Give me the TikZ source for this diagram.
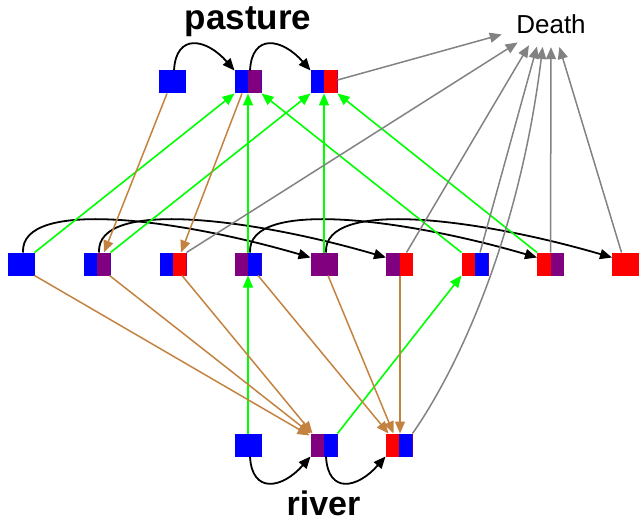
\documentclass[tikz,border=0pt]{standalone}
\usepackage{fontspec}
\setmainfont{Liberation Sans}
\usetikzlibrary{arrows.meta,calc,shapes.geometric}
\definecolor{gbrown}{RGB}{196,130,64}
\definecolor{ggreen}{RGB}{0,255,0}
\definecolor{ggray}{RGB}{130,130,130}
\definecolor{gpurple}{RGB}{128,0,128}
\definecolor{gblue}{RGB}{0,0,255}
\definecolor{gred}{RGB}{255,0,0}
\tikzset{
  box/.style={minimum width=27pt, minimum height=23pt, inner sep=0pt, outer sep=0pt},
  one/.style={box, fill=#1},
  two/.style 2 args={box, fill=#1, path picture={\fill[#2] (path picture bounding box.south) rectangle (path picture bounding box.north east);}},
  tip/.style={-{Triangle[length=12pt,width=10pt]}},
  karr/.style={tip, draw=black, line width=1.8pt},
  garr/.style={tip, draw=ggreen, line width=1.6pt},
  barr/.style={tip, draw=gbrown, line width=1.5pt},
  yarr/.style={tip, draw=ggray, line width=1.5pt},
  title/.style={font=\bfseries\fontsize{35}{40}\selectfont, inner sep=0pt, anchor=base},
}
\begin{document}
\begin{tikzpicture}[x=1pt,y=-1pt]
\useasboundingbox (0,0) rectangle (639,521);
% labels
\node[title] (pasture) at (248,30) {pasture};
\node[title, font=\bfseries\fontsize{34}{40}\selectfont] (river) at (323.5,515.5) {river};
\node[ellipse, inner sep=0pt, minimum width=110pt, minimum height=46pt, font=\fontsize{26}{30}\selectfont] (Death) at (551,24) {Death};
% pasture row
\node[one=gblue] (P1) at (172,82) {};
\node[two={gblue}{gpurple}] (P2) at (248,82) {};
\node[two={gblue}{gred}] (P3) at (324,82) {};
% middle row
\node[one=gblue] (M1) at (21,264) {};
\node[two={gblue}{gpurple}] (M2) at (97,264) {};
\node[two={gblue}{gred}] (M3) at (173,264) {};
\node[two={gpurple}{gblue}] (M4) at (248,264) {};
\node[one=gpurple] (M5) at (324,264) {};
\node[two={gpurple}{gred}] (M6) at (399.5,264) {};
\node[two={gred}{gblue}] (M7) at (475,264) {};
\node[two={gred}{gpurple}] (M8) at (550.5,264) {};
\node[one=gred] (M9) at (625.5,264) {};
% river row
\node[one=gblue] (B1) at (248,445) {};
\node[two={gpurple}{gblue}] (B2) at (324,445) {};
\node[two={gred}{gblue}] (B3) at (399,445) {};
% black curved transitions
\draw[karr] ($(P1.north)+(2,0)$) .. controls ($(P1.north)+(4,-38)$) and ($(P2.north west)+(-28,-32)$) .. (P2.north west);
\draw[karr] ($(P2.north)+(2,0)$) .. controls ($(P2.north)+(4,-38)$) and ($(P3.north west)+(-28,-32)$) .. (P3.north west);
\draw[karr] ($(B1.south)+(2,0)$) .. controls ($(B1.south)+(4,38)$) and ($(B2.south west)+(-28,32)$) .. (B2.south west);
\draw[karr] ($(B2.south)+(2,0)$) .. controls ($(B2.south)+(4,38)$) and ($(B3.south west)+(-28,32)$) .. (B3.south west);
\draw[karr] ($(M1.north)+(2,0)$) .. controls ($(M1.north)+(-1,-55)$) and ($(M5.north west)+(-130,-33)$) .. ($(M5.north west)+(0,5)$);
\draw[karr] ($(M2.north)+(2,0)$) .. controls ($(M2.north)+(-1,-55)$) and ($(M6.north west)+(-130,-33)$) .. ($(M6.north west)+(0,5)$);
\draw[karr] ($(M4.north)+(2,0)$) .. controls ($(M4.north)+(-1,-55)$) and ($(M8.north west)+(-130,-33)$) .. ($(M8.north west)+(0,5)$);
\draw[karr] ($(M5.north)+(2,0)$) .. controls ($(M5.north)+(-1,-55)$) and ($(M9.north west)+(-130,-33)$) .. ($(M9.north west)+(0,5)$);
% green: to pasture
\draw[garr] (M1.north east) -- (P2.south west);
\draw[garr] (M2.north east) -- (P3.south west);
\draw[garr] (M4.north) -- (P2.south);
\draw[garr] (M5.north) -- (P3.south);
\draw[garr] (M7.north west) -- (P2.south east);
\draw[garr] (M8.north west) -- (P3.south east);
% green: from river
\draw[garr] (B1.north) -- (M4.south);
\draw[garr] (B2.north east) -- (M7.south west);
% brown: from pasture
\draw[barr] ($(P1.south)+(-5,0)$) -- ($(M2.north)+(7,0)$);
\draw[barr] ($(P2.south)+(-6,0)$) -- ($(M3.north)+(8,0)$);
% brown: to river
\draw[barr] (M1.south east) -- ($(B2.north west)+(-1,2)$);
\draw[barr] ($(M2.south east)+(-1,0)$) -- ($(B2.north west)+(0,0)$);
\draw[barr] ($(M3.south)+(9,0)$) -- ($(B2.north west)+(2,0)$);
\draw[barr] ($(M4.south)+(10,0)$) -- ($(B3.north west)+(3,0)$);
\draw[barr] ($(M5.south)+(4,0)$) -- ($(B3.north west)+(8,0)$);
\draw[barr] ($(M6.south)+(0.5,0)$) -- ($(B3.north)+(1,0)$);
% gray: to Death
\draw[yarr] ($(P3.east)+(0,-2)$) -- (Death.192);
\draw[yarr] (M3.north east) -- (Death.209);
\draw[yarr] ($(M6.north)+(7,0)$) -- (Death.224);
\draw[yarr] ($(M7.north)+(5,0)$) -- (Death.238);
\draw[yarr] (M8.north) -- (Death.270);
\draw[yarr] ($(M9.north)+(-4,0)$) -- (Death.290);
\draw[yarr] (B3.north east) .. controls ($(B3.north east)+(38,-54)$) and ($(Death.250)+(-25,203)$) .. (Death.250);
\end{tikzpicture}
\end{document}
